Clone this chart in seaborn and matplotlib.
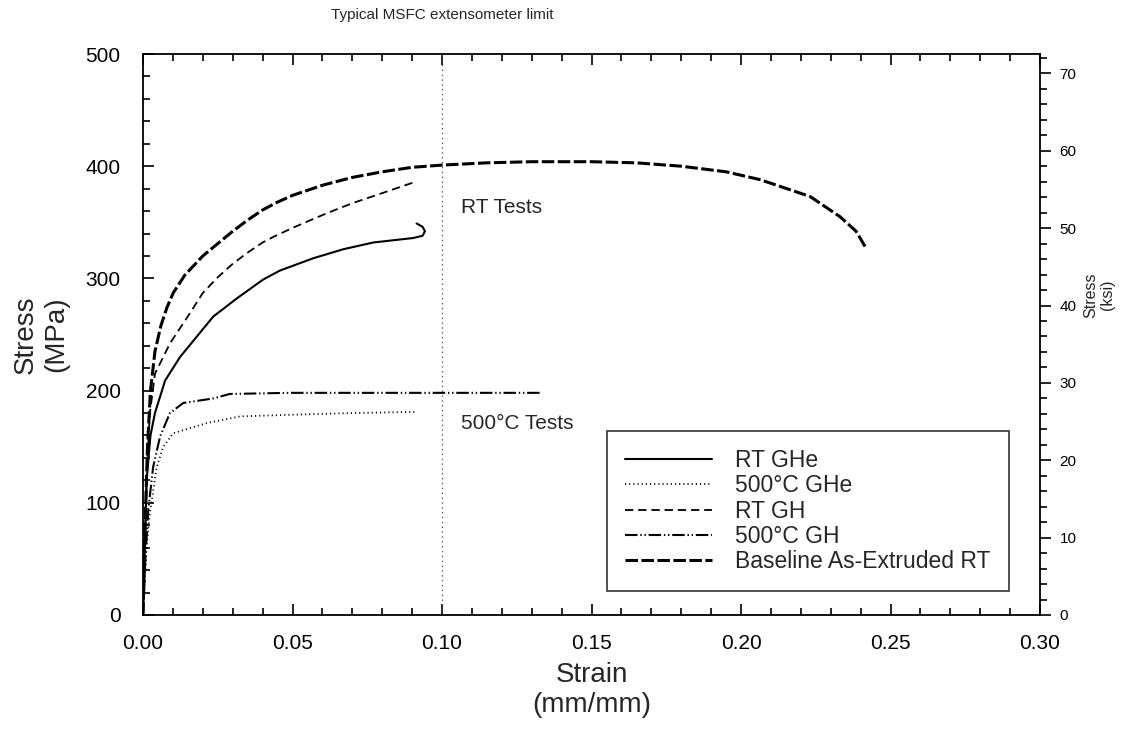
import numpy as np
import pandas as pd
import matplotlib
matplotlib.use("Agg")
import matplotlib.pyplot as plt
from matplotlib.ticker import MultipleLocator
import seaborn as sns

# Tensile curves: engineering strain (mm/mm) vs stress (MPa)
rt_ghe_strain = [0, 0.0005, 0.0012, 0.0025, 0.004, 0.0074, 0.0124, 0.0235, 0.0313,
                 0.0402, 0.0458, 0.057, 0.067, 0.077, 0.0904, 0.0935, 0.0943, 0.0935, 0.0915]
rt_ghe_stress = [0, 50, 120, 160, 180, 209, 230, 266, 282,
                 299, 307, 318, 326, 332, 336, 338, 342, 346, 349]

hot_ghe_strain = [0, 0.0012, 0.0023, 0.0046, 0.0068, 0.0101, 0.0213, 0.0324, 0.05, 0.07, 0.091]
hot_ghe_stress = [0, 61, 91, 132, 150, 162, 171, 177, 178.5, 180, 181]

rt_gh_strain = [0, 0.0008, 0.0015, 0.0023, 0.004, 0.009, 0.0157, 0.02, 0.025, 0.03,
                0.035, 0.04, 0.0436, 0.05, 0.0614, 0.07, 0.08, 0.091]
rt_gh_stress = [0, 80, 140, 180, 215, 242, 269, 287, 301, 313,
                323, 332, 337, 345, 358, 367, 376, 386]

hot_gh_strain = [0, 0.0008, 0.0018, 0.0034, 0.0057, 0.009, 0.0135, 0.0235, 0.029,
                 0.049, 0.08, 0.11, 0.1328]
hot_gh_stress = [0, 50, 95, 132, 159, 180, 189, 193, 197,
                 198, 198, 198, 198]

base_strain = [0, 0.0008, 0.0015, 0.0025, 0.004, 0.006, 0.008, 0.0101, 0.014, 0.02,
               0.025, 0.03, 0.035, 0.04, 0.045, 0.05, 0.06, 0.07, 0.08, 0.09, 0.1,
               0.115, 0.13, 0.15, 0.165, 0.18, 0.195, 0.2064, 0.2231, 0.2331, 0.2385, 0.2418]
base_stress = [0, 90, 150, 200, 235, 258, 274, 287, 303, 320,
               331, 342, 352, 361, 368, 374, 383, 390, 395, 399, 401,
               403, 404, 404, 403, 400, 395, 388, 373, 355, 342, 327]

series_labels = ["RT GHe", "500°C GHe", "RT GH", "500°C GH", "Baseline As-Extruded RT"]
extensometer_limit = 0.10
MPA_PER_KSI = 6.895

sns.set_style("ticks")
plt.rcParams["font.family"] = ["Liberation Sans", "DejaVu Sans"]
plt.rcParams["lines.scale_dashes"] = False

fig = plt.figure(figsize=(11.3, 7.37), dpi=100)
ax = fig.add_axes([143 / 1130, 1 - 615 / 737, (1040 - 143) / 1130, (615 - 54) / 737])

curves = [
    (rt_ghe_strain, rt_ghe_stress, dict(linestyle="-", linewidth=1.5)),
    (hot_ghe_strain, hot_ghe_stress, dict(linestyle=(0, (0.8, 2.2)), linewidth=1.3)),
    (rt_gh_strain, rt_gh_stress, dict(linestyle=(0, (6, 3.5)), linewidth=1.3)),
    (hot_gh_strain, hot_gh_stress, dict(linestyle=(0, (9, 2, 1, 2, 1, 2)), linewidth=1.5)),
    (base_strain, base_stress, dict(linestyle=(0, (9, 2.5)), linewidth=2.2)),
]
for (xs, ys, style), label in zip(curves, series_labels):
    df = pd.DataFrame({"strain": xs, "stress": ys})
    sns.lineplot(data=df, x="strain", y="stress", ax=ax, sort=False, estimator=None,
                 color="black", label=label, **style)

ax.axvline(extensometer_limit, color="#555555", linestyle=(0, (1, 2.5)), linewidth=0.9)

ax.set_xlim(0, 0.30)
ax.set_ylim(0, 500)
ax.xaxis.set_major_locator(MultipleLocator(0.05))
ax.xaxis.set_minor_locator(MultipleLocator(0.01))
ax.yaxis.set_major_locator(MultipleLocator(100))
ax.yaxis.set_minor_locator(MultipleLocator(20))
ax.xaxis.set_major_formatter(plt.FuncFormatter(lambda v, p: f"{v:.2f}"))
ax.tick_params(which="both", direction="in", top=True, right=True, width=1.2,
               labelsize=15, colors="black")
ax.tick_params(which="major", length=8)
ax.tick_params(which="minor", length=5)
ax.tick_params(axis="x", which="major", pad=14)
ax.tick_params(axis="y", which="major", pad=16)
for sp in ax.spines.values():
    sp.set_linewidth(1.3)
    sp.set_color("black")

ax.set_xlabel("Strain\n(mm/mm)", fontsize=20, labelpad=6)
ax.set_ylabel("Stress\n(MPa)", fontsize=20, labelpad=12)

# Secondary stress scale in ksi
ax2 = ax.twinx()
ax2.set_ylim(0, 500 / MPA_PER_KSI)
ax2.yaxis.set_major_locator(MultipleLocator(10))
ax2.yaxis.set_minor_locator(MultipleLocator(2))
ax2.tick_params(which="both", direction="out", width=1.2, labelsize=11, colors="black")
ax2.tick_params(which="major", length=8, pad=6)
ax2.tick_params(which="minor", length=5)
ax2.set_ylabel("Stress\n(ksi)", fontsize=11.5)
ax2.yaxis.set_label_coords(1.048, 0.57)
for sp in ax2.spines.values():
    sp.set_visible(False)

ax.text(extensometer_limit, 1.07, "Typical MSFC extensometer limit", transform=ax.get_xaxis_transform(),
        ha="center", va="center", fontsize=11)
ax.text(0.1063, 363, "RT Tests", fontsize=15, ha="left", va="center")
ax.text(0.1063, 171, "500°C Tests", fontsize=15, ha="left", va="center")

leg = ax.legend(loc="lower right", bbox_to_anchor=(0.965, 0.042), fontsize=16.5, frameon=True,
                fancybox=False, edgecolor="black", handlelength=3.8, labelspacing=0.1,
                borderpad=0.8, handletextpad=1.0, borderaxespad=0)
leg.get_frame().set_linewidth(1.2)

fig.savefig("out.png", dpi=100)
